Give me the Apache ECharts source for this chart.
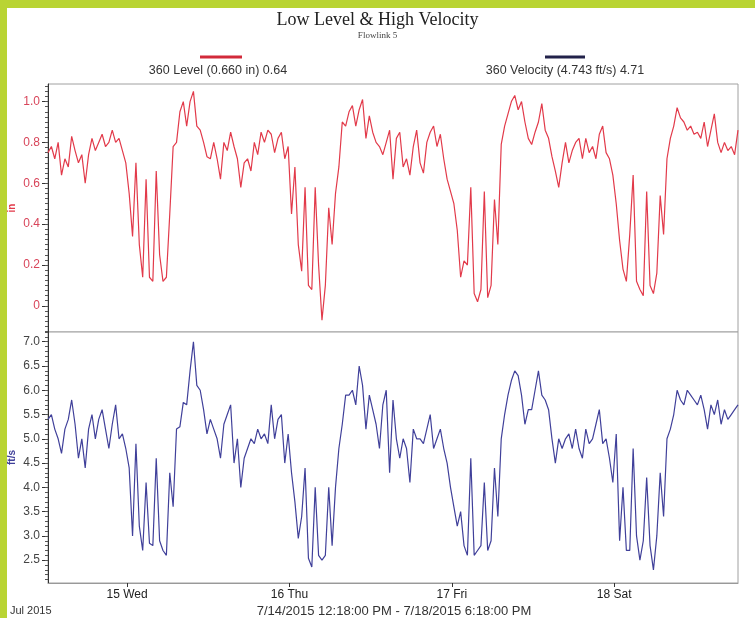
<!DOCTYPE html>
<html>
<head>
<meta charset="utf-8">
<script src="https://cdn.jsdelivr.net/npm/echarts@6/dist/echarts.min.js"></script>
<style>
html, body { margin: 0; padding: 0; background: #fff; }
#chart { width: 755px; height: 618px; }
</style>
</head>
<body>
<div id="chart"></div>
<script>
// readings every 30 minutes; x is hours since 7/14/2015 00:00, first reading 12:18 PM
var startHour = 12.3;
var stepHours = 0.5;

var levelIn = [
    0.75, 0.78, 0.72, 0.80, 0.64, 0.72, 0.68, 0.83, 0.76, 0.70,
    0.74, 0.60, 0.74, 0.82, 0.76, 0.80, 0.84, 0.78, 0.80, 0.86,
    0.80, 0.82, 0.76, 0.70, 0.55, 0.34, 0.70, 0.30, 0.14, 0.62,
    0.14, 0.12, 0.66, 0.25, 0.12, 0.14, 0.45, 0.78, 0.80, 0.95,
    1.00, 0.88, 1.00, 1.05, 0.88, 0.86, 0.80, 0.73, 0.72, 0.80,
    0.72, 0.62, 0.80, 0.76, 0.85, 0.78, 0.72, 0.58, 0.70, 0.72,
    0.66, 0.80, 0.74, 0.85, 0.80, 0.86, 0.84, 0.75, 0.82, 0.85,
    0.72, 0.78, 0.45, 0.68, 0.30, 0.17, 0.58, 0.10, 0.08, 0.58,
    0.20, -0.07, 0.10, 0.48, 0.30, 0.55, 0.68, 0.90, 0.88, 0.95,
    0.98, 0.88, 0.96, 1.01, 0.82, 0.93, 0.85, 0.80, 0.78, 0.74,
    0.80, 0.86, 0.62, 0.82, 0.85, 0.68, 0.72, 0.64, 0.78, 0.86,
    0.70, 0.65, 0.80, 0.85, 0.88, 0.78, 0.84, 0.72, 0.62, 0.56,
    0.50, 0.37, 0.14, 0.22, 0.20, 0.58, 0.06, 0.02, 0.08, 0.56,
    0.04, 0.10, 0.52, 0.30, 0.79, 0.88, 0.94, 1.00, 1.03, 0.96,
    1.00, 0.90, 0.82, 0.79, 0.85, 0.90, 0.99, 0.86, 0.82, 0.73,
    0.66, 0.58, 0.70, 0.80, 0.70, 0.76, 0.80, 0.82, 0.72, 0.82,
    0.75, 0.78, 0.72, 0.84, 0.88, 0.75, 0.72, 0.64, 0.50, 0.32,
    0.18, 0.12, 0.35, 0.64, 0.12, 0.08, 0.05, 0.56, 0.10, 0.06,
    0.16, 0.54, 0.35, 0.72, 0.82, 0.88, 0.97, 0.92, 0.90, 0.86,
    0.88, 0.84, 0.85, 0.82, 0.90, 0.78, 0.86, 0.94, 0.80, 0.75,
    0.80, 0.76, 0.78, 0.74, 0.86
];

var velocityFts = [
    5.4, 5.5, 5.2, 5.0, 4.7, 5.2, 5.4, 5.8, 5.3, 4.6,
    5.0, 4.4, 5.2, 5.5, 5.0, 5.4, 5.6, 5.2, 4.8, 5.3,
    5.7, 5.0, 5.1, 4.8, 4.4, 3.0, 4.9, 3.2, 2.7, 4.1,
    2.85, 2.8, 4.6, 2.9, 2.7, 2.6, 4.3, 3.6, 5.2, 5.25,
    5.75, 5.7, 6.4, 7.0, 6.1, 6.0, 5.6, 5.1, 5.4, 5.2,
    5.0, 4.6, 5.3, 5.5, 5.7, 4.5, 5.0, 4.0, 4.6, 4.8,
    5.0, 4.9, 5.2, 5.0, 5.1, 4.9, 5.7, 5.0, 5.4, 5.5,
    4.5, 5.1, 4.3, 3.7, 2.95, 3.4, 4.4, 2.54, 2.36, 4.0,
    2.6, 2.5, 2.6, 4.0, 2.8, 4.0, 4.8, 5.3, 5.9, 5.9,
    6.0, 5.7, 6.5, 6.1, 5.2, 5.9, 5.6, 5.3, 4.8, 5.7,
    6.0, 4.3, 5.8, 5.0, 4.6, 5.0, 4.8, 4.1, 5.2, 5.0,
    5.0, 4.9, 5.2, 5.5, 4.8, 5.0, 5.2, 4.8, 4.5, 4.0,
    3.6, 3.2, 3.5, 2.8, 2.6, 4.6, 2.6, 2.7, 2.8, 4.1,
    2.7, 2.9, 4.4, 3.4, 5.0, 5.5, 5.9, 6.2, 6.4, 6.3,
    5.9, 5.3, 5.6, 5.6, 6.0, 6.4, 5.9, 5.8, 5.6, 5.0,
    4.5, 5.0, 4.8, 5.0, 5.1, 4.8, 5.2, 4.8, 4.6, 5.2,
    4.9, 5.0, 5.3, 5.6, 4.9, 5.0, 4.6, 4.1, 5.1, 2.9,
    4.0, 2.7, 2.7, 4.8, 3.0, 2.5, 2.9, 4.2, 2.8, 2.3,
    3.0, 4.3, 3.4, 5.0, 5.2, 5.5, 6.0, 5.8, 5.7, 6.0,
    5.9, 5.8, 5.7, 5.9, 5.6, 5.2, 5.7, 5.5, 5.8, 5.3,
    5.6, 5.4, 5.5, 5.6, 5.7
];

var dayTicks = [24, 48, 72, 96];
var dayLabels = ['15 Wed', '16 Thu', '17 Fri', '18 Sat'];
var levelTicks = [0, 0.2, 0.4, 0.6, 0.8, 1.0];
var velocityTicks = [2.5, 3.0, 3.5, 4.0, 4.5, 5.0, 5.5, 6.0, 6.5, 7.0];

var levelMin = -0.128, levelMax = 1.086;
var velMin = 2.03, velMax = 7.2;

var hours = levelIn.map(function (v, i) { return +(startHour + i * stepHours).toFixed(2); });
var endHour = hours[hours.length - 1];

function pairs(vals) {
    return vals.map(function (v, i) { return [hours[i], v]; });
}
function minorTicks(from, to, step) {
    var out = [];
    for (var k = Math.ceil(from / step); k * step <= to; k++) out.push(+(k * step).toFixed(4));
    return out;
}

var red = '#e23a4a';
var blue = '#40409a';
var font = '"Liberation Sans", Arial, sans-serif';

function yAxisPair(grid, min, max, ticks, minorStep, name, nameColor, labelColor, fmt) {
    return [{
        type: 'value', gridIndex: grid, position: 'left', min: min, max: max,
        name: name, nameLocation: 'middle', nameGap: 31, nameMoveOverlap: false,
        nameTextStyle: { color: nameColor, fontSize: 10, fontWeight: 'bold', fontFamily: font },
        axisLine: { show: true, lineStyle: { color: '#333' } },
        axisTick: { show: true, customValues: ticks, length: 6, lineStyle: { color: '#333' } },
        axisLabel: { customValues: ticks, formatter: fmt, color: labelColor, fontSize: 12, fontFamily: font, margin: 8 },
        splitLine: { show: false }
    }, {
        type: 'value', gridIndex: grid, position: 'left', offset: 0, min: min, max: max,
        axisLine: { show: false },
        axisTick: { show: true, customValues: minorTicks(min, max, minorStep), length: 3, lineStyle: { color: '#555' } },
        axisLabel: { show: false },
        splitLine: { show: false }
    }];
}

var option = {
    animation: false,
    backgroundColor: '#fff',
    title: {
        text: 'Low Level & High Velocity',
        subtext: 'Flowlink 5',
        left: 'center',
        top: 6,
        itemGap: 2,
        textStyle: { fontFamily: '"Liberation Serif", serif', fontSize: 18, fontWeight: 'normal', color: '#222' },
        subtextStyle: { fontFamily: '"Liberation Serif", serif', fontSize: 9, color: '#444' }
    },
    graphic: [
        { type: 'rect', shape: { x: 0, y: 0, width: 755, height: 8 }, style: { fill: '#b9d433' } },
        { type: 'rect', shape: { x: 0, y: 0, width: 7, height: 618 }, style: { fill: '#b9d433' } },
        { type: 'line', shape: { x1: 200, y1: 57, x2: 242, y2: 57 }, style: { stroke: '#d22a3a', lineWidth: 3 } },
        { type: 'line', shape: { x1: 545, y1: 57, x2: 585, y2: 57 }, style: { stroke: '#22224a', lineWidth: 3 } },
        { type: 'text', x: 218, y: 71, style: { text: '360 Level (0.660 in) 0.64', font: '12.5px ' + font, fill: '#333', align: 'center', verticalAlign: 'middle' } },
        { type: 'text', x: 565, y: 71, style: { text: '360 Velocity (4.743 ft/s) 4.71', font: '12.5px ' + font, fill: '#333', align: 'center', verticalAlign: 'middle' } },
        { type: 'text', x: 10, y: 611, style: { text: 'Jul 2015', font: '11px ' + font, fill: '#333', align: 'left', verticalAlign: 'middle' } },
        { type: 'text', x: 394, y: 611, style: { text: '7/14/2015 12:18:00 PM - 7/18/2015 6:18:00 PM', font: '13px ' + font, fill: '#333', align: 'center', verticalAlign: 'middle' } }
    ],
    grid: [
        { left: 48, top: 84, width: 690, height: 248, show: true, borderColor: '#a0a0a0', backgroundColor: '#fff', outerBoundsMode: 'none' },
        { left: 48, top: 332, width: 690, height: 251, show: true, borderColor: '#a0a0a0', backgroundColor: '#fff', outerBoundsMode: 'none' }
    ],
    xAxis: [
        { type: 'value', gridIndex: 0, min: startHour, max: endHour, show: false },
        {
            type: 'value', gridIndex: 1, min: startHour, max: endHour,
            axisLine: { show: true, lineStyle: { color: '#999' } },
            axisTick: { show: true, customValues: dayTicks, length: 4, lineStyle: { color: '#333' } },
            axisLabel: {
                customValues: dayTicks,
                formatter: function (v) { var k = dayTicks.indexOf(v); return k >= 0 ? dayLabels[k] : ''; },
                color: '#222', fontSize: 12, fontFamily: font, margin: 6
            },
            splitLine: { show: false }
        }
    ],
    yAxis: [].concat(
        yAxisPair(0, levelMin, levelMax, levelTicks, 0.025, 'in', red, '#d8455a',
            function (v) { return v === 0 ? '0' : v.toFixed(1); }),
        yAxisPair(1, velMin, velMax, velocityTicks, 0.1, 'ft/s', blue, '#444',
            function (v) { return v.toFixed(1); })
    ),
    series: [
        {
            name: '360 Level', type: 'line', xAxisIndex: 0, yAxisIndex: 0,
            data: pairs(levelIn), showSymbol: false,
            lineStyle: { color: red, width: 1.2 }, itemStyle: { color: red }
        },
        {
            name: '360 Velocity', type: 'line', xAxisIndex: 1, yAxisIndex: 2,
            data: pairs(velocityFts), showSymbol: false,
            lineStyle: { color: blue, width: 1.2 }, itemStyle: { color: blue }
        }
    ]
};

var chart = echarts.init(document.getElementById('chart'));
chart.setOption(option);
</script>
</body>
</html>
